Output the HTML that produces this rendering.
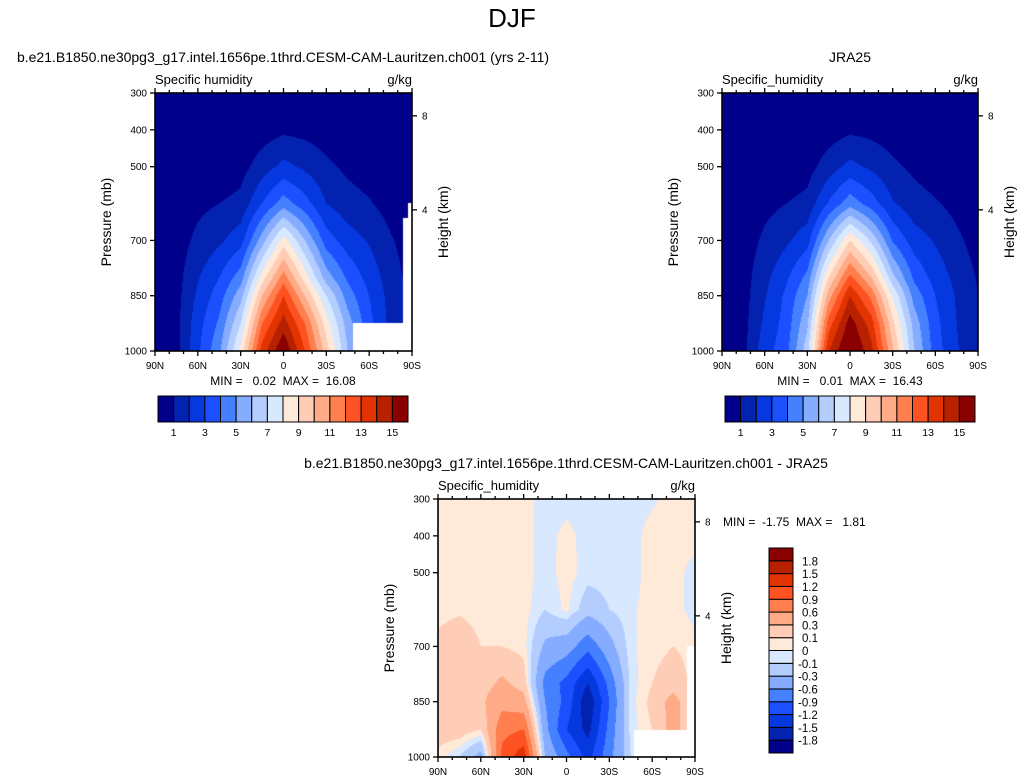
<!DOCTYPE html>
<html><head><meta charset="utf-8">
<style>
body{margin:0;background:#fff;width:1025px;height:783px;overflow:hidden;position:relative;font-family:"Liberation Sans",Arial,sans-serif}
canvas{position:absolute}
svg{position:absolute;left:0;top:0}
text{white-space:pre}
</style></head>
<body>
<canvas id="c1" width="257" height="258" style="left:155px;top:93px"></canvas>
<canvas id="c2" width="256" height="258" style="left:722px;top:93px"></canvas>
<canvas id="c3" width="257" height="258" style="left:438px;top:499px"></canvas>
<svg id="s" width="1025" height="783" xml:space="preserve"></svg>
<script>
// ---- data ----
const lats=[90,75,60,45,30,15,0,-15,-30,-45,-60,-75,-90];
const plevs=[300,400,500,600,700,800,850,925,1000];
const latTicks=['90N','60N','30N','0','30S','60S','90S'];
const pTicks=[300,400,500,700,850,1000];
const qLevels=[1,2,3,4,5,6,7,8,9,10,11,12,13,14,15];
const qLabels=['1','3','5','7','9','11','13','15'];
const dLevels=[-1.8,-1.5,-1.2,-0.9,-0.6,-0.3,-0.1,0,0.1,0.3,0.6,0.9,1.2,1.5,1.8];
const palette=['#00008a','#0422b0','#0638e0','#1c50ff','#4580ff','#85acff','#b4cdff','#d8e8ff','#ffe9d9','#ffcdb5','#ffab88','#ff7f4e','#ff5222','#e23400','#b82100','#8a0000'];
const modelQ=[
[0.02,0.05,0.1,0.2,0.3,0.4,0.45,0.5,0.5],
[0.03,0.07,0.15,0.3,0.5,0.6,0.65,0.7,0.65],
[0.05,0.1,0.3,0.75,1.25,1.9,2.2,2.6,2.8],
[0.05,0.1,0.3,1.0,1.8,3.0,3.5,4.2,4.8],
[0.1,0.2,0.6,1.3,2.6,4.5,5.6,7.0,8.3],
[0.2,0.5,1.5,3.0,5.5,8.5,10.0,12.0,13.5],
[0.3,0.8,2.3,4.5,8.5,11.5,13.0,14.5,16.0],
[0.3,0.7,1.8,3.4,6.0,8.5,10.0,12.0,13.0],
[0.2,0.5,1.2,2.0,3.5,5.5,7.0,8.5,9.5],
[0.1,0.3,0.8,1.4,2.5,3.8,4.5,5.5,6.0],
[0.05,0.2,0.5,1.1,1.9,2.6,3.0,3.3,3.5],
[0.03,0.1,0.3,0.6,1.1,1.5,1.6,1.7,1.8],
[0.02,0.05,0.15,0.3,0.5,0.6,0.6,0.6,0.6]];
const jraQ=[
[0.02,0.05,0.1,0.2,0.3,0.4,0.45,0.5,0.5],
[0.03,0.07,0.15,0.3,0.45,0.55,0.6,0.65,0.7],
[0.05,0.1,0.3,0.7,1.2,1.7,1.9,2.2,2.6],
[0.05,0.1,0.3,1.0,1.8,2.8,3.2,3.4,3.6],
[0.1,0.2,0.6,1.3,2.6,4.3,5.0,5.8,6.6],
[0.2,0.5,1.5,3.1,6.0,9.0,10.5,12.5,14.0],
[0.3,0.8,2.3,4.6,9.0,12.3,14.0,15.5,16.4],
[0.3,0.7,1.8,3.5,6.8,10.0,11.7,13.5,14.3],
[0.2,0.5,1.2,2.1,3.9,6.3,7.9,9.3,10.2],
[0.1,0.3,0.8,1.4,2.5,3.8,4.6,5.6,6.1],
[0.05,0.2,0.5,1.1,1.9,2.6,3.0,3.3,3.5],
[0.03,0.1,0.3,0.7,1.2,1.7,1.9,2.0,2.1],
[0.02,0.05,0.15,0.3,0.6,0.9,1.0,1.1,1.2]];
const diffQ=[
[0.05,0.05,0.05,0.05,0.15,0.2,0.2,0.2,0.05],
[0.05,0.05,0.05,0.08,0.2,0.25,0.25,0.2,-0.1],
[0.05,0.05,0.05,0.05,0.1,0.2,0.25,0.1,-0.4],
[0.05,0.05,0.05,0.05,0.1,0.35,0.5,0.8,1.0],
[0.05,0.05,0.05,0.05,0.05,0.2,0.4,0.9,1.4],
[-0.05,-0.05,-0.05,-0.1,-0.35,-0.7,-0.6,-0.5,-0.3],
[-0.05,0.04,0.05,0.03,-0.45,-1.0,-1.0,-1.2,-0.8],
[-0.05,-0.05,-0.05,-0.2,-0.8,-1.5,-1.75,-1.6,-1.3],
[-0.05,-0.05,-0.05,-0.1,-0.4,-0.8,-0.9,-0.8,-0.7],
[-0.05,-0.05,-0.05,-0.02,-0.02,-0.05,-0.05,-0.05,-0.1],
[-0.02,0.05,0.05,0.05,0.05,0.1,0.15,0.1,0.1],
[0.05,0.05,0.05,0.05,0.1,0.2,0.4,0.4,0.4],
[0.05,0.05,-0.05,-0.05,0.05,0.05,0.05,0.05,0.05]];
// missing regions: [lat north edge, lat south edge, pressure below which missing]
const modelMask=[[-48.7,-83.6,924],[-83.6,-87,640],[-87,-90,598]];
const diffMask=[[-47.6,-84.7,926],[-84.7,-90,700]];

// ---- helpers ----
function interp(grid,lat,p){
  let fi=(90-lat)/15; let i=Math.min(Math.floor(fi),lats.length-2); let ti=fi-i;
  let j=0; while(j<plevs.length-2 && p>plevs[j+1]) j++;
  let tj=(p-plevs[j])/(plevs[j+1]-plevs[j]); tj=Math.max(0,Math.min(1,tj));
  const a=grid[i][j],b=grid[i+1][j],c=grid[i][j+1],d=grid[i+1][j+1];
  return (a*(1-ti)+b*ti)*(1-tj)+(c*(1-ti)+d*ti)*tj;
}
function bin(v,levels){let k=0;while(k<levels.length&&v>=levels[k])k++;return k;}
function hexRGB(h){return [parseInt(h.substr(1,2),16),parseInt(h.substr(3,2),16),parseInt(h.substr(5,2),16)];}
const pal=palette.map(hexRGB);
function drawField(id,grid,levels,mask){
  const cv=document.getElementById(id),ctx=cv.getContext('2d');
  const W=cv.width,H=cv.height,img=ctx.createImageData(W,H);
  for(let y=0;y<H;y++)for(let x=0;x<W;x++){
    const lat=90-(x+0.5)/W*180,p=300+(y+0.5)/H*700;
    let miss=false;
    for(const m of mask) if(lat<=m[0]&&lat>=m[1]&&p>=m[2]) miss=true;
    const o=(y*W+x)*4;
    if(miss){img.data[o]=255;img.data[o+1]=255;img.data[o+2]=255;img.data[o+3]=255;continue;}
    const c=pal[bin(interp(grid,lat,p),levels)];
    img.data[o]=c[0];img.data[o+1]=c[1];img.data[o+2]=c[2];img.data[o+3]=255;
  }
  ctx.putImageData(img,0,0);
}
drawField('c1',modelQ,qLevels,modelMask);
drawField('c2',jraQ,qLevels,[]);
drawField('c3',diffQ,dLevels,diffMask);

const S=document.getElementById('s'),NS='http://www.w3.org/2000/svg';
function el(tag,attrs,txt){const e=document.createElementNS(NS,tag);for(const k in attrs)e.setAttribute(k,attrs[k]);if(txt!==undefined)e.textContent=txt;S.appendChild(e);return e;}
function text(x,y,s,size,anchor,name){const t=el('text',{x:x,y:y,'font-size':size,'text-anchor':anchor||'start',fill:'#000'},s);

return t;}
function axes(x0,y0,W,H,left,right,unitsName,prefix){
  const xs=lat=>x0+(90-lat)/180*W, ys=p=>y0+(p-300)/700*H;
  const f=el('rect',{x:x0,y:y0,width:W,height:H,fill:'none',stroke:'#000','stroke-width':1.6});
  
  
  for(let lat=90;lat>=-90;lat-=10){
    const major=lat%30===0,len=major?5:3,x=xs(lat);
    const t1=el('line',{x1:x,x2:x,y1:y0+H,y2:y0+H+len,stroke:'#000','stroke-width':1.3});
    
    
    const t2=el('line',{x1:x,x2:x,y1:y0,y2:y0-len,stroke:'#000','stroke-width':1.3});
    
    
  }
  latTicks.forEach((s,i)=>text(xs(90-30*i),y0+H+18,s,10,'middle',prefix+'-x-tick-label'));
  pTicks.forEach(p=>{const y=ys(p);
    const t=el('line',{x1:x0-5,x2:x0,y1:y,y2:y,stroke:'#000','stroke-width':1.3});
    
    
    text(x0-8,y+3.5,String(p),10,'end',prefix+'-y-tick-label');});
  [[362,'8'],[617,'4']].forEach(h=>{const y=ys(h[0]);
    const t=el('line',{x1:x0+W,x2:x0+W+5,y1:y,y2:y,stroke:'#000','stroke-width':1.3});
    
    
    text(x0+W+10,y+3.5,h[1],10,'start',prefix+'-height-tick-label');});
  text(x0,y0-9,left,13,'start',prefix+'-variable-label');
  text(x0+W,y0-9,'g/kg',13,'end',prefix+'-units-label');
  const py=text(0,0,'Pressure (mb)',14,'middle',prefix+'-y-axis-title');
  py.setAttribute('transform','translate('+(x0-44)+','+(y0+H/2)+') rotate(-90)');
  const hy=text(0,0,'Height (km)',14,'middle',prefix+'-height-axis-title');
  hy.setAttribute('transform','translate('+(x0+W+36)+','+(y0+H/2)+') rotate(-90)');
}
text(512,27,'DJF',26,'middle','main-title');
text(283,62,'b.e21.B1850.ne30pg3_g17.intel.1656pe.1thrd.CESM-CAM-Lauritzen.ch001 (yrs 2-11)',14,'middle','model-panel-title');
text(850,62,'JRA25',14,'middle','jra-panel-title');
text(566,468,'b.e21.B1850.ne30pg3_g17.intel.1656pe.1thrd.CESM-CAM-Lauritzen.ch001 - JRA25',14,'middle','difference-panel-title');
axes(155,93,257,258,'Specific humidity','g/kg','model');
axes(722,93,256,258,'Specific_humidity','g/kg','jra');
axes(438,499,257,258,'Specific_humidity','g/kg','diff');
text(283,385,'MIN =   0.02  MAX =  16.08',12,'middle','model-min-max');
text(850,385,'MIN =   0.01  MAX =  16.43',12,'middle','jra-min-max');
text(723,526,'MIN =  -1.75  MAX =   1.81',12,'start','diff-min-max');
function hbar(x0,y0,W,H,prefix){
  const bw=W/palette.length;
  palette.forEach((c,i)=>{const r=el('rect',{x:x0+i*bw,y:y0,width:bw,height:H,fill:c,stroke:'#000','stroke-width':1});
    
    });
  qLabels.forEach((s,i)=>text(x0+(2*i+1)*bw,y0+H+14,s,10.5,'middle',prefix+'-colorbar-label'));
}
hbar(158,396,250,26,'model');
hbar(725,396,250,26,'jra');
const vb={x:769,y:548,w:24,h:205};
const bh=vb.h/palette.length;
palette.forEach((c,i)=>{const r=el('rect',{x:vb.x,y:vb.y+vb.h-(i+1)*bh,width:vb.w,height:bh,fill:c,stroke:'#000','stroke-width':1});
  
  });
dLevels.forEach((v,i)=>{const s=String(v);text(s.startsWith('-')?vb.x+29:vb.x+33,vb.y+vb.h-(i+1)*bh+4.5,s,11.5,'start','diff-colorbar-label');});
</script>
</body></html>
